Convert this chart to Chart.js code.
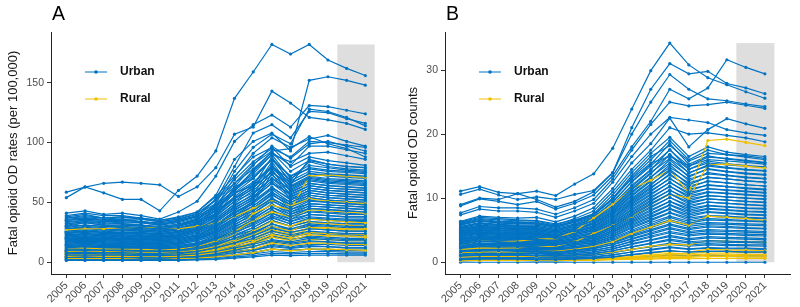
<!DOCTYPE html>
<html lang="en">
<head>
  <meta charset="UTF-8" />
  <title>Fatal opioid OD rates and counts</title>
  <script src="https://cdn.jsdelivr.net/npm/chart.js"></script>
  <style>
    body {
      margin: 0;
      padding: 0;
      background: white;
      font-family: 'Liberation Sans', Arial, sans-serif;
    }
    .panels {
      display: flex;
      width: 800px;
      height: 307px;
    }
    canvas {
      display: block;
    }
  </style>
</head>
<body>
  <div class="panels">
    <canvas id="chartA" width="400" height="307"></canvas>
    <canvas id="chartB" width="400" height="307"></canvas>
  </div>

  <script>
    const years = [2005, 2006, 2007, 2008, 2009, 2010, 2011, 2012, 2013, 2014, 2015, 2016, 2017, 2018, 2019, 2020, 2021];
    const yTicksA = [0, 50, 100, 150];
    const yTicksB = [0, 10, 20, 30];
    const shadeStart = 2019.5;
    const shadeEnd = 2021.5;

    // Panel A: fatal OD rates per 100,000, one row per county
    const urbanRates = [
      [54,63,58,52.5,52.5,43,60,72,93,137,159,182,174,182,169,162,156],
      [58.6,62.8,66,67,66,64.7,55,63,79,107,113,143,133,121,119,116,111],
      [41,43,40,41,39,36,42,51,72,101,115,123,113,131,130,127,124],
      [37,39,37,38,37,35,37,42,56,86,101,108,93,152,155,152,148],
      [33,35,34,33,33,31,35,39,52,80,108,115,104,126,125,120,116],
      [30,33,31,31,30,29,31,36,49,76,96,107,99,128,126,121,114],
      [27,29,28,27,27,26,28,33,46,71,91,104,96,103,106,101,97],
      [35,37,35,36,34,32,34,39,53,69,84,95,88,101,100,98,96],
      [24,26,25,24,24,23,25,30,41,63,81,97,87,99,101,97,93],
      [22,24,23,23,22,21,23,28,39,59,77,92,81,97,97,94,91],
      [32,34,33,32,31,29,31,35,47,66,82,93,95,105,99,95,88],
      [28,30,29,28,28,27,28,32,43,61,76,90,84,91,92,89,86],
      [38,40,37,38,36,34,36,40,49,63,70,86,72,81,79,77,76],
      [36,37,36,35,34,33,35,38,47,57,67,80,69,84,80,78,77],
      [34,35,34,34,33,31,33,37,45,58,64,88,66,74,73,72,71],
      [31,33,31,30,31,29,31,34,43,54,63,75,65,86,82,80,79],
      [29,31,30,29,28,28,29,33,41,53,61,84,63,71,69,68,67],
      [27,29,27,27,26,25,27,31,39,51,58,70,61,69,67,66,65],
      [26,27,26,25,25,24,26,30,37,48,56,82,59,66,64,63,62],
      [25,26,25,24,24,23,25,28,35,46,54,66,57,64,62,61,60],
      [23,24,23,23,22,22,23,27,34,44,52,78,55,62,60,59,58],
      [22,23,22,22,21,21,22,26,32,42,50,62,53,60,58,57,56],
      [21,22,21,21,20,20,21,25,31,41,49,74,52,58,56,55,54],
      [20,21,20,20,19,19,20,23,29,39,47,58,50,56,54,53,52],
      [19,20,19,19,18,18,19,22,28,37,45,56,48,54,52,51,50],
      [18,19,18,18,17,17,18,21,27,36,43,53,46,52,50,49,48],
      [17,18,17,17,16.5,16,17,20,25,34,41,51,44,49,48,47,46],
      [16,17,16,16,15.5,15,16,19,24,32,39,48,42,47,46,45,44],
      [15,16,15,15,14.5,14,15,18,23,30,37,46,40,45,44,43,42],
      [14,15,14,14,13.5,13,14,16,21,28,35,43,38,42,41,40,40],
      [13,14,13,13,12.5,12,13,15,20,26,33,41,36,40,39,38,38],
      [12,13,12.5,12,12,11.5,12,14,19,25,31,39,34,38,37,36,36],
      [11,12,11.5,11,11,10.5,11,13,17,23,29,37,32,36,35,34,34],
      [10.5,11,10.5,10.5,10,10,10.5,12,16,22,27,35,30,34,33,32,32],
      [10,10.5,10,10,9.5,9.5,10,11.5,15,20,25,32,28,32,31,30,30],
      [9,9.5,9,9,9,8.5,9,10.5,14,19,24,30,27,30,29,28,28],
      [8.5,9,8.5,8.5,8,8,8.5,10,13,17,22,28,25,28,27,26,26],
      [8,8.5,8,8,7.5,7.5,8,9,12,16,20,26,23,26,25,24,24],
      [7,7.5,7,7,7,6.5,7,8,11,14,18,24,21,24,23,22,22],
      [6.5,7,6.5,6.5,6,6,6.5,7.5,10,13,16,21,19,22,21,20,20],
      [6,6,6,6,5.5,5.5,6,7,9,12,15,19,17,20,19,18,18],
      [5,5.5,5,5,5,4.5,5,6,8,10.5,13,17,15,17,17,16,16],
      [4.5,4.5,4.5,4.5,4,4,4.5,5,7,9,11,15,13,15,15,14,14],
      [4,4,4,4,3.5,3.5,4,4.5,6,8,10,13,11.5,13,13,12,12],
      [3,3,3,3,3,3,3,3.5,5,6.5,8,11,10,11,11,10,10],
      [2.5,2.5,2.5,2.5,2.5,2.5,2.5,3,4,5.5,7,9,8,9,9,8.5,8.5],
      [2,2,2,2,2,2,2,2.5,3,4.5,5.5,7.5,7,7.5,7.5,7,7],
      [1.5,1.5,1.5,1.5,1.5,1.5,1.5,2,2.5,3.5,4.5,6,5.5,6,6,6,6],
      [39,41,39,39,37,35,38,42,55,72,88,96,80,88,85,83,81],
      [37,38,37,36,36,34,36,41,52,66,78,92,76,85,82,80,79],
      [35,36,35,35,34,32,34,38,48,60,72,86,72,78,76,75,74],
      [32,34,32,32,31,30,32,36,46,61,74,90,70,79,77,76,75],
      [30,31,30,30,29,28,30,34,44,58,70,86,68,76,74,73,72],
      [28,29,28,28,27,26,28,32,41,55,66,80,66,74,72,71,70],
      [26,28,27,26,26,25,27,31,40,53,64,79,64,72,70,69,68],
      [25,26,25,25,24,24,25,29,38,51,62,76,62,70,68,67,66],
      [24,25,24,24,23,22,24,28,36,49,60,73,60,68,66,65,64],
      [23,24,23,22,22,21,23,27,35,47,57,70,58,66,64,63,62],
      [22,22,22,21,21,20,22,26,33,45,55,68,56,64,62,61,60],
      [21,21,21,20,20,19,21,24,31,43,53,66,54,62,60,59,58],
      [20,20,20,19,19,18,20,23,30,41,51,63,52,60,58,57,56],
      [19,19,19,18,18,17.5,19,22,29,39,49,61,50,58,56,55,54],
      [18,18.5,18,17.5,17,16.5,18,21,27,37,47,59,48,56,54,53,52],
      [17,17.5,17,16.5,16,15.5,17,20,26,35,45,57,46,54,52,51,50],
      [16,16.5,16,15.5,15,14.5,16,19,25,33,43,54,44,51,50,49,48],
      [15,15.5,15,14.5,14,13.5,15,18,23,31,41,52,42,49,48,47,46],
      [14,14.5,14,13.5,13,12.5,14,16.5,22,29,38,49,40,47,46,45,44],
      [13,13.5,13,12.5,12,11.5,13,15.5,20,27,36,46,38,45,44,43,42],
      [12,12.5,12,11.5,11,11,12,14.5,19,26,34,44,36,43,42,41,40],
      [11,11.5,11,11,10.5,10,11,13.5,18,24,32,41,34,40,39,38,38],
      [10,10.5,10,10,9.5,9,10,12.5,16,22,29,38,32,37,36,35,35],
      [9,9.5,9,9,8.5,8.5,9,11,15,20,27,35,30,34,33,32,32],
      [8,8.5,8,8,7.5,7.5,8,10,13,18,24,32,27,31,30,29,29],
      [7,7.5,7,7,6.5,6.5,7,9,12,16,22,29,25,28,27,26,26],
      [6,6.5,6,6,5.5,5.5,6,7.5,10,14,19,26,22,25,24,23,23],
      [5,5.5,5,5,4.5,4.5,5,6.5,9,12,16,22,19,21,20,19,19],
      [4,4.5,4,4,4,3.5,4,5,7,10,13,18,16,18,17,16,16],
      [3,3.5,3,3,3,3,3,4,5.5,8,10,14,12,14,13,12,12],
      [2,2.5,2,2,2,2,2,3,4,6,8,11,10,11,10,10,10]
    ];

    const ruralRates = [
      [10,11,10,10,10,9.5,10,12,16,23,41,47.5,44,72,73,72,71],
      [27,28,28,29,29,29,28,30,33,38,45,52,47,53,51,50,49],
      [8,8.5,8,8,8,7.5,8,9,12,17,23,30,26,33,32,31,30],
      [7,7,7,7,7,7,7,8,10,14,19,26,22,28,28,27,27],
      [6,6.5,6,6,6,6,6,7,9,12,17,23,20,25,24,24,23],
      [5,5,5,5,5,5,5,6,8,11,15,21,18,23,22,22,21],
      [9,9,9,8.5,8.5,8,8.5,10,13,19,26,34,30,36,35,34,33],
      [4,4,4,4,4,4,4,5,6,8,11,16,14,16,16,15,15],
      [3,3,3,3,3,3,3,3.5,4.5,6,8,11,9.5,11,11,10.5,10],
      [12,12,11,11,11,10,11,13,18,26,35,42,38,44,43,42,41],
      [6,6,6,6,6,6,6,6.5,8,10,13,18,16,19,19,18,18],
      [7.5,7.5,7.5,7.5,7.5,7,7.5,8.5,11,15,20,27,24,29,29,28,28]
    ];

    // Panel B: fatal OD counts, one row per county
    const urbanCounts = [
      [11.1,11.8,10.9,10.7,11.1,10.4,12.2,13.8,17.8,23.9,29.9,34.2,30.8,28.8,27.7,26.6,25.6],
      [10.6,11.4,10.5,9.8,10.2,9.8,10.6,11.2,14,21,27,31,29.4,29.8,27.9,27.2,26.3],
      [9,10,9.8,10.7,9.8,8.6,9.5,11,14,20,25,29.3,27,25.5,25.2,24.7,24.3],
      [8.8,9.9,9.5,9,9.5,8.3,9.2,10.5,13.5,18,22,27,25.5,27.2,31.6,30.4,29.4],
      [7.7,8.7,8.5,8.5,8.3,7.5,8.5,9.8,13,17.5,21.5,25,24.4,24.6,25,24.5,24],
      [7.4,8.3,8,8,7.8,7,8,9.2,12.5,16.5,20,22.6,22.2,21.8,20.7,20.2,19.8],
      [6.4,7.2,7,6.9,7,6.3,7.2,8.5,11.5,15.5,18.5,22.5,18,20.7,22.4,21.6,20.9],
      [6.2,6.8,6.6,6.5,6.4,5.8,6.8,8,11,14.5,17.5,21,20,20.2,19.8,19.4,18.8],
      [6,6.5,6.3,6.2,6.2,5.6,6.5,7.6,10.5,14,17,19.5,16.5,18,17.2,16.8,16.5],
      [5.8,6.4,6.1,6,6,5.5,6.3,7.3,10,13.5,16.5,18.2,15.8,17,16.8,16.6,16.2],
      [6.3,7,6.8,6.6,6.5,6,6.6,7.5,10,13,15.5,16.5,15,16.4,16.2,15.9,15.6],
      [5.6,6.2,5.9,5.8,5.8,5.3,6,7,9.5,12.5,15,17.5,15,16,15.8,15.6,15.3],
      [5.4,6,5.7,5.6,5.6,5.1,5.8,6.8,9,12,14.5,16.8,14.5,15.5,15.2,15,14.8],
      [5.2,5.7,5.5,5.4,5.3,4.9,5.6,6.5,8.6,11.5,14,16.2,14,15,14.7,14.4,14.2],
      [5,5.5,5.3,5.2,5.1,4.7,5.3,6.2,8.2,11,13.3,15.5,13.5,14.5,14.1,13.8,13.6],
      [4.8,5.3,5.1,5,4.9,4.5,5.1,6,7.8,10.5,12.8,14.8,13,13.8,13.5,13.2,13],
      [4.6,5.1,4.9,4.8,4.7,4.3,4.9,5.7,7.5,10,12.2,14.2,12.4,13.2,13,12.7,12.5],
      [4.4,4.9,4.7,4.6,4.5,4.1,4.7,5.5,7.2,9.6,11.7,13.6,11.9,12.6,12.4,12.1,11.9],
      [4.2,4.7,4.5,4.4,4.3,3.9,4.5,5.2,6.9,9.2,11.2,13,11.4,12,11.8,11.6,11.4],
      [4,4.5,4.3,4.2,4.1,3.8,4.3,5,6.5,8.8,10.7,12.4,10.9,11.5,11.3,11.1,10.9],
      [3.8,4.2,4.1,4,3.9,3.6,4.1,4.7,6.2,8.3,10.2,11.8,10.4,11,10.8,10.6,10.4],
      [3.6,4,3.9,3.8,3.7,3.4,3.9,4.5,5.9,7.9,9.7,11.2,9.9,10.4,10.2,10,9.9],
      [3.4,3.8,3.7,3.6,3.5,3.2,3.7,4.2,5.6,7.5,9.2,10.7,9.4,9.9,9.7,9.5,9.4],
      [3.2,3.6,3.5,3.4,3.3,3,3.5,4,5.3,7.1,8.7,10.1,8.9,9.4,9.2,9,8.9],
      [3,3.4,3.3,3.2,3.1,2.9,3.3,3.8,5,6.7,8.2,9.5,8.4,8.9,8.7,8.5,8.4],
      [2.8,3.2,3.1,3,2.9,2.7,3.1,3.5,4.7,6.3,7.7,9,7.9,8.4,8.2,8,7.9],
      [2.6,2.9,2.8,2.8,2.7,2.5,2.9,3.3,4.4,5.9,7.2,8.4,7.4,7.9,7.7,7.5,7.4],
      [2.4,2.7,2.6,2.6,2.5,2.3,2.7,3.1,4.1,5.5,6.7,7.8,6.9,7.3,7.2,7,6.9],
      [2.2,2.5,2.4,2.4,2.3,2.1,2.4,2.8,3.8,5,6.2,7.2,6.4,6.8,6.7,6.5,6.4],
      [2,2.3,2.2,2.2,2.1,1.9,2.2,2.6,3.4,4.6,5.7,6.6,5.9,6.2,6.1,6,5.9],
      [1.8,2,2,1.9,1.9,1.7,2,2.3,3.1,4.2,5.1,6,5.3,5.7,5.6,5.4,5.3],
      [1.6,1.8,1.8,1.7,1.7,1.5,1.8,2.1,2.8,3.7,4.6,5.4,4.8,5.1,5,4.9,4.8],
      [1.4,1.6,1.5,1.5,1.5,1.3,1.6,1.8,2.4,3.3,4.1,4.8,4.3,4.6,4.5,4.4,4.3],
      [1.2,1.4,1.3,1.3,1.3,1.2,1.4,1.6,2.1,2.9,3.5,4.2,3.7,4,3.9,3.8,3.7],
      [1,1.1,1.1,1.1,1,1,1.1,1.3,1.8,2.4,3,3.6,3.2,3.4,3.3,3.2,3.2],
      [0.8,0.9,0.9,0.9,0.8,0.8,0.9,1.1,1.5,2,2.5,3,2.7,2.9,2.8,2.7,2.7],
      [0.6,0.7,0.7,0.7,0.6,0.6,0.7,0.8,1.1,1.6,2,2.4,2.1,2.3,2.2,2.2,2.1],
      [0.4,0.5,0.5,0.5,0.4,0.4,0.5,0.6,0.8,1.2,1.5,1.8,1.6,1.7,1.7,1.6,1.6],
      [0.2,0.3,0.3,0.3,0.2,0.2,0.3,0.4,0.5,0.7,0.9,1.1,1,1.1,1,1,1],
      [0,0,0,0,0,0,0,0,0,0,0,0,0,0,0,0,0],
      [6.1,6.7,6.4,6.3,6.2,5.7,6.4,7.4,9.8,13.2,16,19,16,17.5,16.8,16.4,16],
      [5.9,6.5,6.2,6.1,6,5.5,6.2,7.1,9.3,12.6,15.3,18.5,15.3,16.6,16.1,15.8,15.5],
      [5.5,6.1,5.8,5.7,5.6,5.1,5.8,6.7,8.8,11.8,14.4,17.6,14.5,15.8,15.4,15.1,14.9],
      [5.3,5.8,5.6,5.5,5.4,4.9,5.5,6.4,8.4,11.3,13.8,16.8,13.9,15.2,14.8,14.5,14.3],
      [5.1,5.6,5.4,5.3,5.2,4.7,5.3,6.1,8,10.8,13.2,16,13.3,14.6,14.2,13.9,13.7],
      [4.9,5.4,5.2,5.1,5,4.5,5.1,5.9,7.7,10.3,12.6,15.2,12.7,14,13.6,13.3,13.1],
      [4.7,5.2,5,4.9,4.8,4.3,4.9,5.6,7.4,9.8,12,14.5,12.1,13.3,13,12.7,12.5],
      [4.5,5,4.8,4.7,4.6,4.2,4.7,5.4,7,9.4,11.5,13.8,11.6,12.7,12.4,12.1,11.9],
      [4.3,4.8,4.6,4.5,4.4,4,4.5,5.1,6.7,9,11,13.1,11.1,12.1,11.8,11.5,11.3],
      [4.1,4.6,4.4,4.3,4.2,3.8,4.3,4.9,6.4,8.6,10.5,12.5,10.6,11.5,11.2,11,10.8],
      [3.9,4.4,4.2,4.1,4,3.6,4.1,4.6,6.1,8.1,10,11.9,10.1,10.9,10.7,10.5,10.3],
      [3.7,4.1,4,3.9,3.8,3.5,3.9,4.4,5.8,7.7,9.5,11.3,9.6,10.4,10.2,10,9.8],
      [3.5,3.9,3.8,3.7,3.6,3.3,3.7,4.2,5.5,7.3,9,10.7,9.1,9.9,9.7,9.5,9.3],
      [3.3,3.7,3.6,3.5,3.4,3.1,3.5,4,5.2,6.9,8.5,10.1,8.6,9.4,9.2,9,8.8],
      [3.1,3.5,3.4,3.3,3.2,2.9,3.3,3.7,4.9,6.5,8,9.5,8.1,8.8,8.6,8.4,8.3],
      [2.9,3.3,3.2,3.1,3,2.8,3.1,3.5,4.6,6.1,7.5,8.9,7.6,8.3,8.1,7.9,7.8],
      [2.7,3,2.9,2.9,2.8,2.6,2.9,3.3,4.3,5.7,7,8.3,7.1,7.8,7.6,7.4,7.3],
      [2.5,2.8,2.7,2.7,2.6,2.4,2.7,3,4,5.3,6.5,7.7,6.6,7.2,7,6.9,6.8],
      [2.3,2.6,2.5,2.5,2.4,2.2,2.5,2.8,3.6,4.8,5.9,7,6.1,6.6,6.5,6.4,6.3],
      [2.1,2.4,2.3,2.3,2.2,2,2.3,2.6,3.3,4.4,5.4,6.4,5.6,6,5.9,5.8,5.7],
      [1.9,2.1,2.1,2,2,1.8,2.1,2.4,3,4,4.9,5.8,5.1,5.5,5.4,5.3,5.2],
      [1.7,1.9,1.9,1.8,1.8,1.6,1.9,2.2,2.7,3.6,4.4,5.2,4.6,4.9,4.8,4.7,4.6],
      [1.5,1.7,1.6,1.6,1.6,1.4,1.7,1.9,2.4,3.2,3.9,4.6,4.1,4.4,4.3,4.2,4.1],
      [1.3,1.5,1.4,1.4,1.4,1.2,1.4,1.6,2.1,2.8,3.4,4,3.5,3.8,3.7,3.6,3.5],
      [1.1,1.2,1.2,1.2,1.1,1,1.2,1.4,1.8,2.4,2.9,3.4,3,3.2,3.1,3.1,3],
      [0.9,1,1,1,0.9,0.9,1,1.1,1.5,2,2.4,2.8,2.5,2.7,2.6,2.6,2.5],
      [0.7,0.8,0.8,0.8,0.7,0.7,0.8,0.9,1.2,1.6,1.9,2.3,2,2.2,2.1,2.1,2],
      [0.5,0.6,0.6,0.6,0.5,0.5,0.6,0.7,0.9,1.2,1.5,1.8,1.6,1.7,1.7,1.6,1.6]
    ];

    const ruralCounts = [
      [2.8,3.3,3.2,3.3,3.6,3.7,4.8,6.9,9,11.5,12.8,14.4,10.8,19,19.2,18.7,18.2],
      [2,2.2,2.2,2.3,2.4,2.5,3.2,4.5,5.7,7.2,9,10.6,10,15.2,15.3,15,14.7],
      [1.5,1.6,1.6,1.6,1.7,1.7,2,2.5,3.2,4.5,5.5,6.5,5.8,7.2,7,6.8,6.5],
      [0.8,0.9,0.9,0.9,0.9,1,1.1,1.3,1.6,2,2.5,2.8,2.7,3.4,3.3,3.2,3.1],
      [0.4,0.45,0.45,0.45,0.45,0.45,0.5,0.6,0.8,1.1,1.4,1.7,1.6,2,1.9,1.9,1.8],
      [0.35,0.4,0.4,0.4,0.4,0.4,0.45,0.5,0.7,0.9,1.1,1.4,1.3,1.6,1.6,1.5,1.5],
      [0.3,0.35,0.35,0.35,0.35,0.35,0.4,0.45,0.6,0.8,1,1.2,1.1,1.3,1.3,1.2,1.2],
      [0.3,0.3,0.3,0.3,0.3,0.3,0.35,0.4,0.5,0.7,0.8,1,0.9,1.1,1.1,1,1],
      [0.25,0.3,0.3,0.3,0.3,0.3,0.3,0.35,0.45,0.55,0.65,0.8,0.75,0.9,0.9,0.85,0.8],
      [0.35,0.35,0.35,0.35,0.35,0.35,0.35,0.35,0.4,0.45,0.5,0.6,0.55,0.6,0.6,0.6,0.6]
    ];

    const urbanColor = '#0073C2';
    const ruralColor = '#EFC000';
    const fontFamily = "'Liberation Sans', Arial, sans-serif";

    function seriesDataset(values, color) {
      return {
        data: values.map((v, i) => ({ x: years[i], y: v })),
        borderColor: color,
        backgroundColor: color,
        borderWidth: 1.2,
        pointRadius: 1.6,
        pointBorderWidth: 0,
        tension: 0
      };
    }

    // Chart.js paints dataset 0 last (on top): every third urban line sits over the rural ones
    function buildDatasets(urban, rural) {
      const over = urban.filter((u, i) => i % 3 === 1).map(u => seriesDataset(u, urbanColor));
      const under = urban.filter((u, i) => i % 3 !== 1).map(u => seriesDataset(u, urbanColor));
      return over.concat(rural.map(r => seriesDataset(r, ruralColor)), under);
    }

    const panelDecor = {
      id: 'panelDecor',
      beforeDatasetsDraw(chart, args, opts) {
        const { ctx, scales: { x, y } } = chart;
        const x0 = x.getPixelForValue(shadeStart);
        const x1 = x.getPixelForValue(shadeEnd);
        const y0 = y.getPixelForValue(opts.shadeTop);
        const y1 = y.getPixelForValue(0);
        ctx.save();
        ctx.fillStyle = '#DEDEDE';
        ctx.fillRect(x0, y0, x1 - x0, y1 - y0);
        ctx.restore();
      },
      afterDraw(chart, args, opts) {
        const { ctx, chartArea } = chart;
        ctx.save();
        ctx.fillStyle = '#000';
        ctx.font = '19.5px ' + fontFamily;
        ctx.textBaseline = 'alphabetic';
        ctx.fillText(opts.letter, chartArea.left + 1, 20);

        const lx = chartArea.left + 34;
        [['Urban', urbanColor, 72], ['Rural', ruralColor, 99]].forEach(([label, color, ly]) => {
          ctx.strokeStyle = color;
          ctx.lineWidth = 1;
          ctx.beginPath();
          ctx.moveTo(lx, ly);
          ctx.lineTo(lx + 22, ly);
          ctx.stroke();
          ctx.fillStyle = color;
          ctx.beginPath();
          ctx.arc(lx + 11, ly, 1.8, 0, Math.PI * 2);
          ctx.fill();
          ctx.fillStyle = '#111';
          ctx.font = 'bold 12px ' + fontFamily;
          ctx.textBaseline = 'middle';
          ctx.fillText(label, lx + 35, ly);
        });
        ctx.restore();
      }
    };

    function makeChart(id, cfg) {
      const allValues = cfg.urban.concat(cfg.rural).flat();
      new Chart(document.getElementById(id), {
        type: 'line',
        data: { datasets: buildDatasets(cfg.urban, cfg.rural) },
        plugins: [panelDecor],
        options: {
          responsive: false,
          animation: false,
          events: [],
          layout: { padding: { top: 32, right: 10, left: 0, bottom: 0 } },
          plugins: {
            legend: { display: false },
            tooltip: { enabled: false },
            panelDecor: { letter: cfg.letter, shadeTop: Math.max(...allValues) }
          },
          scales: {
            x: {
              type: 'linear',
              min: 2004.18,
              max: 2022.32,
              afterBuildTicks: s => { s.ticks = years.map(v => ({ value: v })); },
              afterFit: s => { s.height = 33; },
              ticks: {
                autoSkip: false,
                maxRotation: 45,
                minRotation: 45,
                padding: 1,
                color: '#4D4D4D',
                font: { size: 11, family: fontFamily },
                callback: v => String(v)
              },
              grid: { drawOnChartArea: false, drawTicks: true, tickLength: 4, color: '#333' },
              border: { color: '#222', width: 1 }
            },
            y: {
              type: 'linear',
              min: cfg.yMin,
              max: cfg.yMax,
              afterBuildTicks: s => { s.ticks = cfg.yTicks.map(v => ({ value: v })); },
              afterFit: s => { s.width = cfg.axisWidth; },
              ticks: {
                padding: 3,
                color: '#4D4D4D',
                font: { size: 10.5, family: fontFamily }
              },
              title: {
                display: true,
                text: cfg.yTitle,
                color: '#1A1A1A',
                font: { size: 13, family: fontFamily },
                padding: { top: 6, bottom: 0 }
              },
              grid: { drawOnChartArea: false, drawTicks: true, tickLength: 4, color: '#333' },
              border: { color: '#222', width: 1 }
            }
          }
        }
      });
    }

    makeChart('chartA', {
      letter: 'A',
      urban: urbanRates,
      rural: ruralRates,
      yTicks: yTicksA,
      yMin: -9.8,
      yMax: 192.4,
      axisWidth: 51,
      yTitle: 'Fatal opioid OD rates (per 100,000)'
    });

    makeChart('chartB', {
      letter: 'B',
      urban: urbanCounts,
      rural: ruralCounts,
      yTicks: yTicksB,
      yMin: -1.83,
      yMax: 35.93,
      axisWidth: 45,
      yTitle: 'Fatal opioid OD counts'
    });
  </script>
</body>
</html>
